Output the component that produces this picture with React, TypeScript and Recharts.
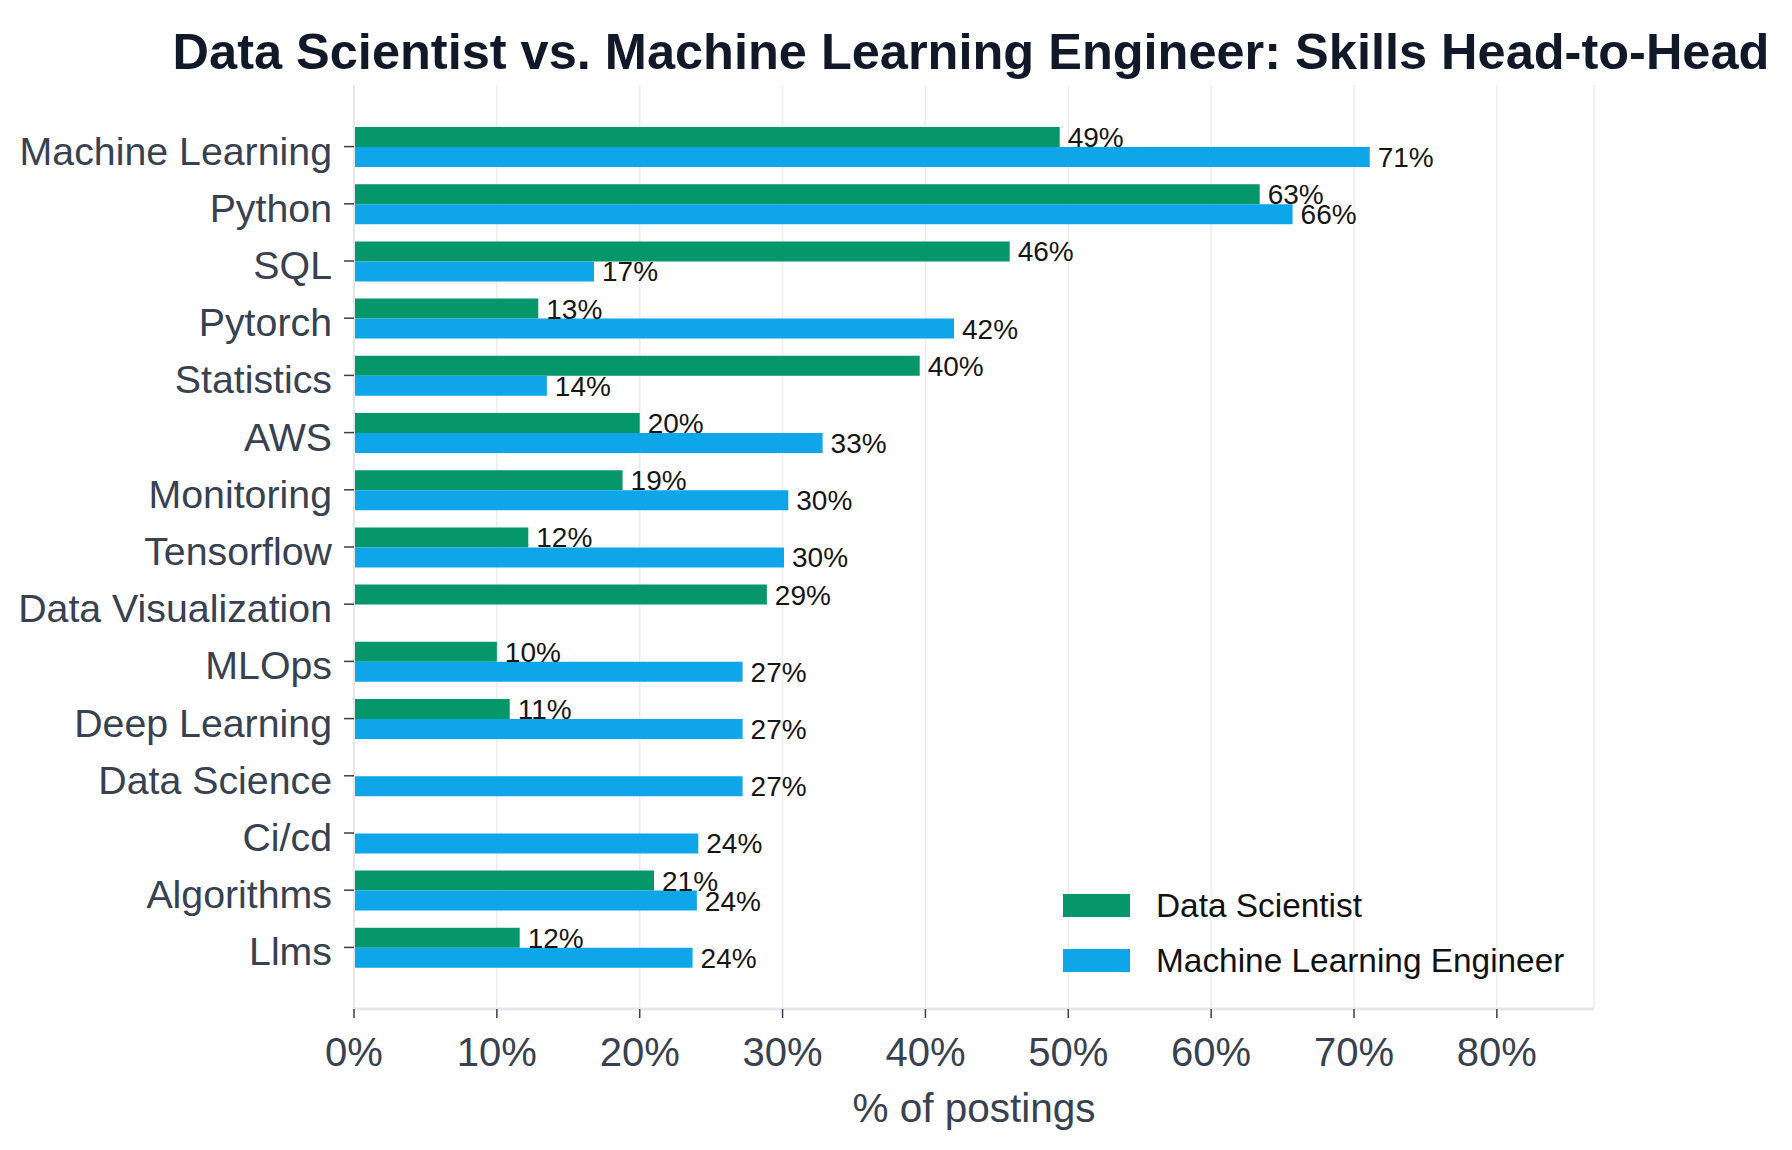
import React from 'react'
import { BarChart, Bar, XAxis, YAxis, CartesianGrid, LabelList, Legend } from 'recharts'

const skills = [
  'Machine Learning', 'Python', 'SQL', 'Pytorch', 'Statistics', 'AWS', 'Monitoring', 'Tensorflow',
  'Data Visualization', 'MLOps', 'Deep Learning', 'Data Science', 'Ci/cd', 'Algorithms', 'Llms',
]
const dataScientist = [49.4, 63.4, 45.9, 12.9, 39.6, 20.0, 18.8, 12.2, 28.9, 10.0, 10.9, null, null, 21.0, 11.6]
const mlEngineer = [71.1, 65.7, 16.8, 42.0, 13.5, 32.8, 30.4, 30.1, null, 27.2, 27.2, 27.2, 24.1, 24.0, 23.7]
const xTicks = [0, 10, 20, 30, 40, 50, 60, 70, 80]

const rows = skills.map((skill, i) => ({ skill, ds: dataScientist[i], mle: mlEngineer[i] }))

const GREEN = '#059669'
const BLUE = '#0ea5e9'
const FONT = '"Liberation Sans", Arial, Helvetica, sans-serif'

const pct = (v: any) => (v == null || v === 0 ? '' : `${Math.round(Number(v))}%`)

// category labels sit a touch below the tick, like the source
const SkillTick = ({ x, y, payload }: any) => (
  <text x={x} y={y + 4} textAnchor="end" dominantBaseline="central" fontSize={39.3} fill="#374151">
    {payload.value}
  </text>
)

const LegendBox = ({ payload }: any) => (
  <div>
    {(payload || []).map((p: any) => (
      <div key={p.value} style={{ display: 'flex', alignItems: 'center', height: 55 }}>
        <span style={{ display: 'inline-block', width: 67, height: 23, background: p.color, marginRight: 26 }} />
        <span style={{ fontSize: 33.4, color: '#111111' }}>{p.value}</span>
      </div>
    ))}
  </div>
)

export default function App() {
  return (
    <div style={{ position: 'absolute', left: 0, top: 0, width: 1792, height: 1150, background: '#fff', fontFamily: FONT }}>
      <div
        style={{
          position: 'absolute', top: 27, left: 971, transform: 'translateX(-50%)', whiteSpace: 'nowrap',
          fontSize: 50.5, lineHeight: '50px', fontWeight: 700, color: '#111827',
        }}
      >
        Data Scientist vs. Machine Learning Engineer: Skills Head-to-Head
      </div>
      <BarChart
        width={1792}
        height={1150}
        data={rows}
        layout="vertical"
        margin={{ top: 85, right: 198, left: 0, bottom: 0 }}
        barSize={20}
        barGap={0}
      >
        <CartesianGrid horizontal={false} stroke="#ececec" strokeWidth={1.5} />
        <XAxis
          type="number"
          domain={[0, 86.8]}
          ticks={xTicks}
          tickFormatter={(v) => `${v}%`}
          height={141}
          tickSize={9}
          tickMargin={20}
          tick={{ fontSize: 40, fill: '#374151' }}
          tickLine={{ stroke: '#374151', strokeWidth: 1.5 }}
          axisLine={{ stroke: '#e5e7eb', strokeWidth: 3 }}
          label={{ value: '% of postings', position: 'insideBottom', offset: 28, fontSize: 40.5, fill: '#374151' }}
        />
        <YAxis
          type="category"
          dataKey="skill"
          width={354}
          padding={{ top: 33, bottom: 33 }}
          tickSize={10}
          tickMargin={12}
          interval={0}
          tick={<SkillTick />}
          tickLine={{ stroke: '#374151', strokeWidth: 1.5 }}
          axisLine={{ stroke: '#e5e7eb', strokeWidth: 2 }}
        />
        <Legend
          layout="horizontal"
          verticalAlign="middle"
          align="center"
          content={<LegendBox />}
          wrapperStyle={{ left: 1063, top: 878, width: 560 }}
        />
        <Bar dataKey="ds" name="Data Scientist" fill={GREEN} isAnimationActive={false}>
          <LabelList dataKey="ds" position="right" offset={8} formatter={pct} style={{ fontSize: 28, fill: '#151515' }} />
        </Bar>
        <Bar dataKey="mle" name="Machine Learning Engineer" fill={BLUE} isAnimationActive={false}>
          <LabelList dataKey="mle" position="right" offset={8} formatter={pct} style={{ fontSize: 28, fill: '#151515' }} />
        </Bar>
      </BarChart>
    </div>
  )
}
